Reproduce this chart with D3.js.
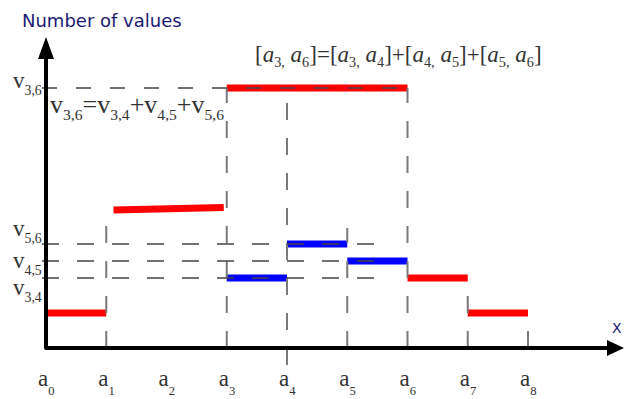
<!DOCTYPE html>
<html>
<head>
<meta charset="utf-8">
<script src="https://cdn.jsdelivr.net/npm/d3@7"></script>
<style>
  html, body { margin: 0; padding: 0; background: #fff; }
  svg { display: block; }
</style>
</head>
<body>
<svg id="chart" width="624" height="399"></svg>
<script>
// ---------------- data ----------------
const xTickIndex = [0, 1, 2, 3, 4, 5, 6, 7, 8];
const xTickLabels = ["0", "1", "2", "3", "4", "5", "6", "7", "8"];

// step segments: [start index, end index], value at start and end, level
const segStart    = [0,   1.12,  3,   3,   4,   5,   6,   7];
const segEnd      = [1,   2.95,  6,   4,   5,   6,   7,   8];
const segValStart = [35,  138,   260, 70,  104, 87,  70,  35];
const segValEnd   = [35,  140.5, 260, 70,  104, 87,  70,  35];
const segLevel    = ["whole", "whole", "whole", "part", "part", "part", "whole", "whole"];

// horizontal guides (value, end index)
const hGuideVals = [260, 104, 87, 70];
const hGuideEnd  = [6, 5.45, 5.45, 5.45];

// vertical guides (index, bottom value, top value)
const vGuideIdx = [1, 3, 4, 5, 6, 7, 8];
const vGuideBot = [0, 0, -17, 0, 0, 0, 0];
const vGuideTop = [128, 260, 260, 120, 260, 70, 35];

// y labels (subscript, anchor value)
const yLabelSubs = ["3,6", "5,6", "4,5", "3,4"];
const yLabelVals = [260, 112, 80, 53];

// --------------- setup ----------------
const svg = d3.select("#chart");
const x = d3.scaleLinear().domain([0, 8]).range([46, 528]);
const y = d3.scaleLinear().domain([0, 300]).range([348, 48]);
const color = d3.scaleOrdinal().domain(["whole", "part"]).range(["#ff0000", "#0000ff"]);

const serif = "'Liberation Serif', 'DejaVu Serif', serif";

function rich(g, px, py, parts, size, fill, subScale, subShift) {
  const t = g.append("text").attr("x", px).attr("y", py)
    .style("font-family", serif).style("font-size", size + "px").attr("fill", fill);
  let down = 0;
  const subOff = size * (subShift || 0.28);
  parts.forEach(([txt, kind]) => {
    const ts = t.append("tspan").text(txt).attr("xml:space", "preserve");
    if (kind === "s") {
      ts.style("font-size", (size * (subScale || 0.6)) + "px");
      if (!down) { ts.attr("dy", subOff); down = 1; }
    } else {
      if (down) { ts.attr("dy", -subOff); down = 0; }
      if (kind === "i") ts.style("font-style", "italic");
    }
  });
  return t;
}

// ---------------- bars ----------------
svg.append("g").selectAll("line").data(segStart).join("line")
  .attr("x1", (d, i) => x(segStart[i]))
  .attr("x2", (d, i) => x(segEnd[i]))
  .attr("y1", (d, i) => y(segValStart[i]))
  .attr("y2", (d, i) => y(segValEnd[i]))
  .attr("stroke", (d, i) => color(segLevel[i]))
  .attr("stroke-width", 7);

// ---------------- guides ----------------
svg.append("g").selectAll("line").data(vGuideIdx).join("line")
  .attr("x1", d => x(d)).attr("x2", d => x(d))
  .attr("y1", (d, i) => y(vGuideBot[i]))
  .attr("y2", (d, i) => y(vGuideTop[i]))
  .attr("stroke", "#7a7a7a").attr("stroke-width", 2)
  .attr("stroke-dasharray", "17,18");

svg.append("g").selectAll("line").data(hGuideVals).join("line")
  .attr("x1", 42).attr("x2", (d, i) => x(hGuideEnd[i]))
  .attr("y1", d => y(d)).attr("y2", d => y(d))
  .attr("stroke", "#444").attr("stroke-width", 1.6)
  .attr("stroke-dasharray", (d, i) => i === 0 ? "15,19" : "17,18");

// ---------------- axes ----------------
const ax = svg.append("g");
ax.append("path")
  .attr("d", `M${x(0)},56 L${x(0)},${y(0)} L608,${y(0)}`)
  .attr("fill", "none").attr("stroke", "#000").attr("stroke-width", 4)
  .attr("stroke-linejoin", "round");
ax.append("path")
  .attr("d", `M${x(0)},37 L${x(0) + 8},59 L${x(0) - 8},59 Z`).attr("fill", "#000");
ax.append("path")
  .attr("d", `M624,${y(0)} L607,${y(0) - 8} L607,${y(0) + 8} Z`).attr("fill", "#000");

ax.append("text").attr("x", 612).attr("y", 333).text("X")
  .style("font-family", "'DejaVu Sans', sans-serif").style("font-size", "14px")
  .attr("fill", "#1a1a73");

// x labels
xTickIndex.forEach((d, i) => {
  rich(svg, x(d) - 8, 386, [["a", "n"], [xTickLabels[i], "s"]], 23, "#333", 0.55, 0.4);
});

// y labels
yLabelSubs.forEach((s, i) => {
  rich(svg, 13, y(yLabelVals[i]), [["v", "n"], [s, "s"]], 23, "#333", 0.6, 0.3);
});

// ---------------- titles ----------------
svg.append("text").attr("x", 22).attr("y", 27).text("Number of values")
  .style("font-family", "'DejaVu Sans', sans-serif").style("font-size", "18px")
  .attr("fill", "#1a1a73");

const grp = (a, b) => [["[", "n"], ["a", "i"], [a + ",", "s"], [" ", "n"], ["a", "i"], [b, "s"], ["]", "n"]];
rich(svg, 255, 62,
  [...grp("3", "6"), ["=", "n"], ...grp("3", "4"), ["+", "n"], ...grp("4", "5"), ["+", "n"], ...grp("5", "6")],
  23, "#333", 0.62, 0.22);

rich(svg, 50, 113,
  [["v", "n"], ["3,6", "s"], ["=", "n"], ["v", "n"], ["3,4", "s"], ["+", "n"], ["v", "n"], ["4,5", "s"], ["+", "n"], ["v", "n"], ["5,6", "s"]],
  26, "#333", 0.6, 0.25);
</script>
</body>
</html>
